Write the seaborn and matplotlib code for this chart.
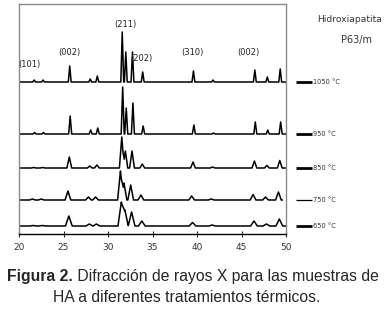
import numpy as np
import pandas as pd
import matplotlib
matplotlib.use("Agg")
import matplotlib.pyplot as plt
import seaborn as sns

# ---- data ----
samples = ["1050 °C", "950 °C", "850 °C", "750 °C", "650 °C"]
offsets = [152, 100, 66, 34, 8]            # vertical stacking offsets (a.u.)
peak_pos = [21.7, 22.7, 25.7, 28.0, 28.8, 31.6, 32.0, 32.75, 33.9, 39.6, 41.8, 46.5, 47.9, 49.35]
shift = [0.0, 0.05, -0.05, -0.2, -0.1]     # per-sample peak shift (deg)
h_1050 = [2, 2, 16, 3, 6, 50, 30, 30, 10, 11, 2, 12, 5, 13]
h_950 = [1.5, 1.5, 18, 4, 6, 47, 26, 31, 8, 9, 1, 12, 4, 12]
h_850 = [0.5, 0.5, 11, 2, 3, 31, 17, 17, 4, 6, 1, 7, 2.5, 7.5]
h_750 = [1, 1, 9, 3, 3, 29, 17, 15, 5, 4, 1, 5.5, 3, 8]
h_650 = [0.5, 0.5, 10, 2, 2, 24, 16, 14, 5, 3.5, 1, 5, 2, 7]
heights = [h_1050, h_950, h_850, h_750, h_650]
half_width = [0.16, 0.17, 0.27, 0.32, 0.38]
x_end = [50, 50, 50, 49.6, 50]
legend_lw = [2.0, 2.0, 2.0, 0.9, 2.0]
hkl_labels = ["(101)", "(002)", "(211)", "(202)", "(310)", "(002)"]
hkl_x = [21.2, 25.7, 32.0, 33.8, 39.5, 45.8]
hkl_y = [169, 181, 209, 176, 181, 181]
xticks = [20, 25, 30, 35, 40, 45, 50]

# ---- build stick-peak profiles as triangle polylines ----
frames = []
for name, off, sh, hs, w, xe in zip(samples, offsets, shift, heights, half_width, x_end):
    pos = np.array(peak_pos) + sh
    bps = np.unique(np.concatenate([[20, xe], pos - w, pos, pos + w]))
    bps = bps[(bps >= 20) & (bps <= xe)]
    y = np.zeros_like(bps)
    for p, h in zip(pos, hs):
        y += h * np.clip(1 - np.abs(bps - p) / w, 0, None)
    frames.append(pd.DataFrame({"two_theta": bps, "intensity": y + off, "sample": name}))
df = pd.concat(frames, ignore_index=True)

sns.set_style("white")
plt.rcParams["font.family"] = ["Liberation Sans", "DejaVu Sans"]

fig = plt.figure(figsize=(3.84, 3.16), dpi=100)
ax = fig.add_axes([19 / 384, 1 - 234 / 316, 267 / 384, 230 / 316])

for name in samples:
    sub = df[df["sample"] == name]
    sns.lineplot(data=sub, x="two_theta", y="intensity", ax=ax, color="black",
                 lw=1.1, estimator=None, sort=False, legend=False)

ax.set_xlim(20, 50)
ax.set_ylim(0, 230)
ax.set_xlabel("")
ax.set_ylabel("")
ax.set_yticks([])
ax.set_xticks(xticks)
ax.set_xticklabels([str(t) for t in xticks], fontsize=6.5, color="#333333",
                   family="DejaVu Sans")
ax.tick_params(axis="x", direction="inout", length=5, width=0.8, pad=4, bottom=True)
for s in ["top", "left", "right"]:
    ax.spines[s].set_color("#8a8a8a")
    ax.spines[s].set_linewidth(1.0)
ax.spines["bottom"].set_color("black")
ax.spines["bottom"].set_linewidth(1.0)

for lab, xx, yy in zip(hkl_labels, hkl_x, hkl_y):
    ax.text(xx, yy, lab, fontsize=6, ha="center", va="center", family="DejaVu Sans",
            color="#222222")

# right-side legend-like labels
for name, off, lw in zip(samples, offsets, legend_lw):
    ax.plot([1.037, 1.097], [off, off], transform=ax.get_yaxis_transform(),
            color="black", lw=lw, clip_on=False, solid_capstyle="butt")
    ax.text(1.102, off, name, transform=ax.get_yaxis_transform(), fontsize=4.8,
            va="center", ha="left", family="DejaVu Sans", color="#333333")

fig.text(382 / 384, 1 - 20 / 316, "Hidroxiapatita", fontsize=6.6, ha="right",
         va="center", family="DejaVu Sans", color="#333333")
fig.text(356 / 384, 1 - 40 / 316, "P63/m", fontsize=7, ha="center",
         va="center", family="DejaVu Sans", color="#333333")

# caption with bold prefix
fs = 11.3
renderer = fig.canvas.get_renderer()
t_bold = fig.text(0, 0, "Figura 2.", fontsize=fs, fontweight="bold")
t_rest = fig.text(0, 0, " Difracción de rayos X para las muestras de", fontsize=fs)
wb = t_bold.get_window_extent(renderer).width
wr = t_rest.get_window_extent(renderer).width
total = wb + wr
x0 = 193 - total / 2
y1 = 1 - 277 / 316
t_bold.set_position((x0 / 384, y1))
t_bold.set_va("center")
t_rest.set_position(((x0 + wb) / 384, y1))
t_rest.set_va("center")
fig.text(187 / 384, 1 - 298 / 316, "HA a diferentes tratamientos térmicos.",
         fontsize=fs, ha="center", va="center")

fig.savefig("out.png", dpi=100)
